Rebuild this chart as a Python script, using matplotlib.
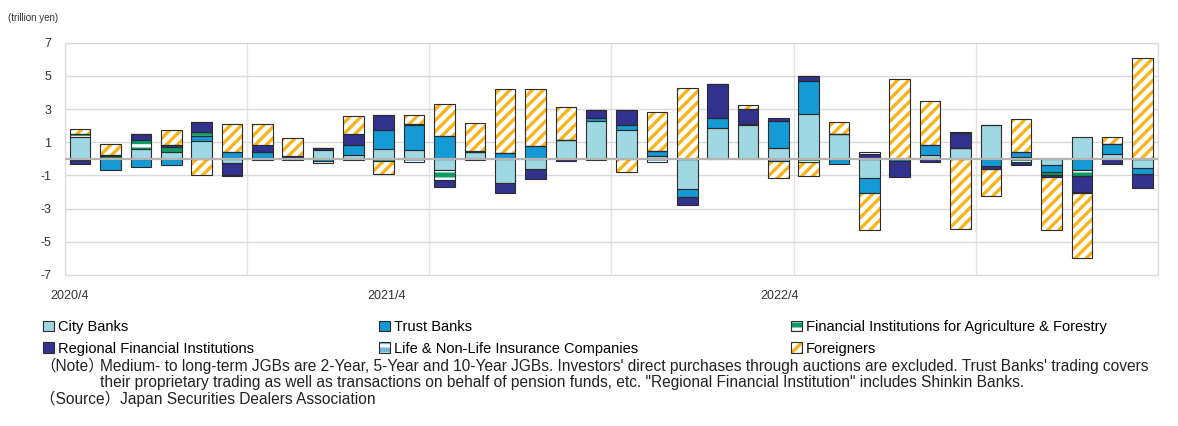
import numpy as np
import matplotlib.pyplot as plt
from matplotlib.patches import Patch
from matplotlib.legend_handler import HandlerTuple

plt.rcParams['font.family'] = ['Liberation Sans', 'Noto Sans CJK JP']
plt.rcParams['hatch.linewidth'] = 2.4
plt.rcParams['axes.unicode_minus'] = False

# monthly net purchases (trillion yen), 2020/4 - 2023/3
city = [1.3, 0.05, 0.62, 0.4, 1.1, -0.24, 0.06, 0.06, 0.52, 0.26, 0.58, 0.52,
        -0.68, 0.4, -1.48, -0.64, 1.12, 2.28, 1.76, 0.2, -1.84, 1.88, 2.02, 0.68,
        2.72, 1.52, -1.18, 0.0, 0.26, 0.68, 2.04, 0.12, -0.38, 1.32, 0.28, -0.58]
trust = [-0.05, -0.7, -0.5, -0.4, 0.25, 0.4, 0.38, 0.0, -0.14, 0.56, 1.14, 1.5,
         1.4, 0.0, 0.38, 0.78, 0.0, 0.2, 0.26, 0.28, -0.48, 0.6, 0.1, 1.6,
         1.96, -0.3, -0.9, -0.14, 0.56, 0.0, -0.44, 0.3, -0.4, -0.68, 0.64, -0.34]
agri = [0.2, 0.15, 0.54, 0.32, 0.25, 0.0, 0.0, 0.0, -0.14, 0.0, -0.12, 0.0,
        -0.6, 0.0, 0.0, 0.0, 0.0, 0.0, 0.0, 0.0, 0.0, 0.0, 0.0, 0.0,
        -0.2, 0.0, 0.0, 0.0, 0.0, 0.0, 0.0, -0.18, -0.22, -0.34, 0.0, 0.0]
regional = [-0.25, 0.06, 0.36, 0.1, 0.6, -0.72, 0.38, 0.14, 0.16, 0.7, 0.92, 0.1,
            -0.4, 0.06, -0.56, -0.56, -0.15, 0.44, 0.94, 0.0, -0.46, 2.0, 0.9, 0.16,
            0.32, 0.0, 0.32, -0.94, -0.22, 0.86, -0.2, -0.22, -0.08, -0.96, -0.32, -0.82]
life = [0.0, 0.0, 0.0, 0.0, 0.0, -0.1, -0.08, -0.08, 0.0, -0.08, 0.0, -0.18,
        0.0, -0.05, 0.0, 0.0, 0.0, -0.05, 0.0, -0.22, 0.0, 0.0, 0.0, -0.16,
        0.0, 0.0, 0.12, 0.0, 0.0, 0.1, 0.0, 0.0, 0.0, -0.1, 0.0, 0.0]
foreign = [0.3, 0.65, 0.0, 0.9, -0.95, 1.7, 1.26, 1.06, 0.0, 1.04, -0.8, 0.5,
           1.92, 1.72, 3.84, 3.4, 1.98, 0.0, -0.78, 2.34, 4.28, 0.0, 0.24, -1.0,
           -0.85, 0.72, -2.22, 4.8, 2.68, -4.24, -1.62, 1.96, -3.22, -3.9, 0.4, 6.08]

tick_labels = ['2020/4', '2021/4', '2022/4']
tick_pos = [-0.35, 10.1, 23.05]

series = [
    ('City Banks', city, '#9fd8e2', None, None),
    ('Trust Banks', trust, '#149bd6', None, None),
    ('Financial Institutions for Agriculture & Forestry', agri, '#0c9a68', '--', 'white'),
    ('Regional Financial Institutions', regional, '#33318e', None, None),
    ('Life & Non-Life Insurance Companies', life, '#6db8da', '--', 'white'),
    ('Foreigners', foreign, 'white', '///', '#f8b41c'),
]

fig = plt.figure(figsize=(11.78, 4.26), dpi=100)
ax = fig.add_axes([0.0552, 0.3545, 0.9276, 0.5453])

x = np.arange(len(city))
w = 0.675
pos = np.zeros(len(x))
neg = np.zeros(len(x))
handles = []
for name, vals, fc, hatch, hc in series:
    v = np.array(vals)
    bottom = np.where(v >= 0, pos, neg)
    if hatch:
        ax.bar(x, v, w, bottom=bottom, color=fc, edgecolor=hc, hatch=hatch, linewidth=0, zorder=2)
        face = Patch(facecolor=fc, edgecolor=hc, hatch=hatch, linewidth=0)
    else:
        ax.bar(x, v, w, bottom=bottom, color=fc, linewidth=0, zorder=2)
        face = Patch(facecolor=fc, linewidth=0)
    ax.bar(x, v, w, bottom=bottom, fill=False, edgecolor='#2b2b2b', linewidth=0.8, zorder=2.5)
    pos = pos + np.where(v > 0, v, 0)
    neg = neg + np.where(v < 0, v, 0)
    handles.append((face, Patch(fill=False, edgecolor='#2b2b2b', linewidth=0.8)))
names = [s[0] for s in series]

ax.axhline(0, color='#b4b4b4', linewidth=1.6, zorder=3)
for b in range(0, 37, 6):
    ax.axvline(b - 0.5, color='#e3e3e3', linewidth=1.0, zorder=0)
ax.set_xlim(-0.5, 35.5)
ax.set_ylim(-7, 7)
ax.set_yticks(range(-7, 8, 2))
ax.yaxis.grid(True, color='#d9d9d9', linewidth=1.0, zorder=0)
ax.set_axisbelow(True)
ax.tick_params(axis='y', length=0, pad=10, labelsize=9, labelcolor='#333333')
ax.set_xticks(tick_pos)
ax.set_xticklabels(tick_labels)
ax.tick_params(axis='x', length=0, pad=11, labelsize=9, labelcolor='#333333')
for s in ax.spines.values():
    s.set_color('#d9d9d9')

fig.text(8 / 1178, 1 - 18 / 426, '(trillion yen)', fontsize=7, color='#333333', va='center')

W, H = 1178, 426
cols = [(0, 3, 43), (1, 4, 379), (2, 5, 791)]
for a, b, px in cols:
    fig.legend(handles=[handles[a], handles[b]], labels=[names[a], names[b]],
               handler_map={tuple: HandlerTuple(ndivide=1)}, loc='upper left',
               bbox_to_anchor=(px / W, 1 - 320 / H), frameon=False, fontsize=10.5,
               handlelength=0.75, handleheight=0.75, handletextpad=0.25,
               labelspacing=0.52, borderpad=0, borderaxespad=0)

nfs = 11.2
fig.text(40 / W, 1 - 366 / H, '（Note）', fontsize=nfs, va='center', color='#222222')
fig.text(100 / W, 1 - 366 / H,
         "Medium- to long-term JGBs are 2-Year, 5-Year and 10-Year JGBs. Investors' direct purchases "
         "through auctions are excluded. Trust Banks' trading covers",
         fontsize=nfs, va='center', color='#222222')
fig.text(100 / W, 1 - 383 / H,
         "their proprietary trading as well as transactions on behalf of pension funds, etc. "
         "\"Regional Financial Institution\" includes Shinkin Banks.",
         fontsize=nfs, va='center', color='#222222')
fig.text(40 / W, 1 - 399 / H, '（Source）Japan Securities Dealers Association',
         fontsize=nfs, va='center', color='#222222')

fig.savefig('out.png', dpi=100)
